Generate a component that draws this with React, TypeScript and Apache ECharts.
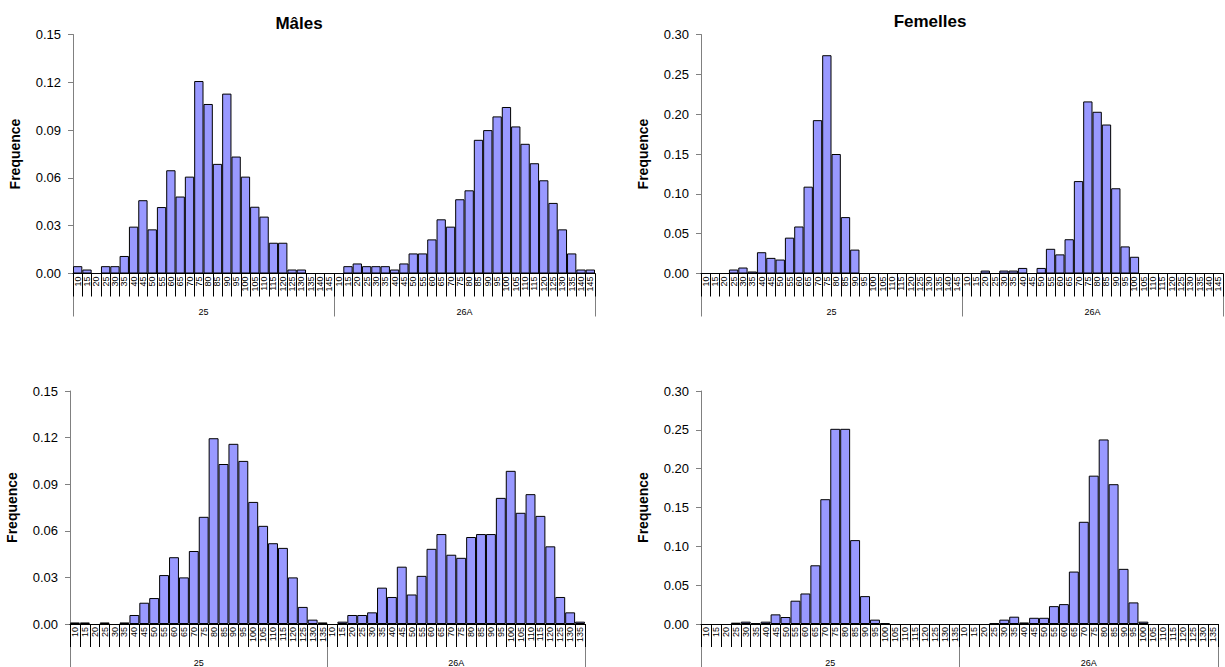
import React, { useEffect, useRef } from "react";
import * as echarts from "echarts";

const catsTop = ["10","15","20","25","30","35","40","45","50","55","60","65","70","75","80","85","90","95","100","105","110","115","120","125","130","135","140","145"];
const catsBottom = ["10","15","20","25","30","35","40","45","50","55","60","65","70","75","80","85","90","95","100","105","110","115","120","125","130","135"];
const groups = ["25", "26A"];

const maleTop25 = [0.0046,0.0025,0,0.0046,0.0046,0.011,0.0294,0.046,0.0277,0.0417,0.0648,0.0483,0.0608,0.1208,0.1064,0.0688,0.1129,0.0734,0.0608,0.0419,0.0357,0.0193,0.0193,0.0025,0.0025,0,0,0];
const maleTop26A = [0,0.0046,0.0063,0.0046,0.0046,0.0046,0.0025,0.0063,0.0126,0.0126,0.0214,0.034,0.0294,0.0466,0.0522,0.0839,0.09,0.0986,0.1045,0.0923,0.0814,0.0692,0.0585,0.0443,0.0277,0.0126,0.0025,0.0025];
const femTop25 = [0,0,0,0.005,0.0075,0.0025,0.0267,0.0196,0.0175,0.045,0.059,0.109,0.1925,0.274,0.15,0.0708,0.03,0,0,0,0,0,0,0,0,0,0,0];
const femTop26A = [0,0,0.0037,0,0.0037,0.0037,0.007,0,0.007,0.031,0.024,0.043,0.116,0.216,0.203,0.187,0.107,0.034,0.021,0,0,0,0,0,0,0,0,0];

const maleBot25 = [0.001,0.001,0,0.001,0,0.001,0.0058,0.0137,0.0167,0.0315,0.043,0.03,0.047,0.069,0.1196,0.103,0.116,0.105,0.0786,0.0632,0.052,0.049,0.03,0.011,0.0028,0.001];
const maleBot26A = [0,0.0015,0.0058,0.0058,0.0075,0.0234,0.0174,0.0369,0.019,0.031,0.0484,0.0579,0.0446,0.0426,0.056,0.0579,0.0579,0.0812,0.0986,0.0716,0.0836,0.0696,0.05,0.0174,0.0075,0.0015];
const femBot25 = [0,0,0,0.0017,0.003,0.001,0.003,0.0124,0.009,0.03,0.0393,0.0756,0.1607,0.2513,0.2513,0.108,0.0359,0.0056,0.001,0,0,0,0,0,0,0];
const femBot26A = [0,0,0,0.001,0.0056,0.0094,0.002,0.008,0.008,0.023,0.0256,0.0675,0.1316,0.191,0.2376,0.18,0.071,0.0278,0.003,0,0,0,0,0,0,0];

const FONT = "'Liberation Sans', Arial, sans-serif";

type Panel = {
  grid: { left: number; top: number; width: number; height: number };
  cats: string[];
  a: number[];
  b: number[];
  max: number;
  interval: number;
};

const panels: Panel[] = [
  { grid: { left: 73, top: 34.5, width: 522, height: 239 }, cats: catsTop, a: maleTop25, b: maleTop26A, max: 0.15, interval: 0.03 },
  { grid: { left: 701, top: 34.5, width: 522, height: 239 }, cats: catsTop, a: femTop25, b: femTop26A, max: 0.3, interval: 0.05 },
  { grid: { left: 70, top: 391, width: 515, height: 234 }, cats: catsBottom, a: maleBot25, b: maleBot26A, max: 0.15, interval: 0.03 },
  { grid: { left: 701, top: 391, width: 517, height: 234 }, cats: catsBottom, a: femBot25, b: femBot26A, max: 0.3, interval: 0.05 },
];

export default function App() {
  const ref = useRef<HTMLDivElement>(null);
  useEffect(() => {
    if (!ref.current) return;
    const chart = echarts.init(ref.current, null, { renderer: "svg" });
    const grid: any[] = [];
    const xAxis: any[] = [];
    const yAxis: any[] = [];
    const series: any[] = [];
    panels.forEach((p, i) => {
      grid.push({ ...p.grid, containLabel: false });
      xAxis.push({
        type: "category",
        gridIndex: i,
        data: [...p.cats, ...p.cats],
        boundaryGap: true,
        axisLine: { show: true, onZero: false, lineStyle: { color: "#000", width: 1 } },
        axisTick: { show: true, length: 23, interval: 0, lineStyle: { color: "#000", width: 1 } },
        axisLabel: { interval: 0, rotate: 90, fontSize: 9, margin: 3, color: "#000", fontFamily: FONT },
        splitLine: { show: false },
        z: 3,
      });
      xAxis.push({
        type: "category",
        gridIndex: i,
        data: groups,
        position: "bottom",
        boundaryGap: true,
        axisLine: { show: false },
        axisTick: { show: true, length: 43, interval: 0, lineStyle: { color: "#808080", width: 1 } },
        axisLabel: { interval: 0, fontSize: 9, margin: 34, color: "#000", fontFamily: FONT },
        splitLine: { show: false },
      });
      yAxis.push({
        type: "value",
        gridIndex: i,
        min: 0,
        max: p.max,
        interval: p.interval,
        name: "Frequence",
        nameLocation: "middle",
        nameGap: 51,
        nameTextStyle: { fontSize: 14, fontWeight: "bold", color: "#000", fontFamily: FONT },
        axisLine: { show: true, lineStyle: { color: "#808080", width: 1 } },
        axisTick: { show: true, length: 5, lineStyle: { color: "#808080" } },
        axisLabel: { fontSize: 13, margin: 12, color: "#000", fontFamily: FONT, formatter: (v: number) => v.toFixed(2) },
        splitLine: { show: false },
      });
      series.push({
        type: "bar",
        xAxisIndex: i * 2,
        yAxisIndex: i,
        data: [...p.a, ...p.b].map((v) => (v === 0 ? null : v)),
        barCategoryGap: "0%",
        barGap: "0%",
        itemStyle: { color: "#9999FF", borderColor: "#000", borderWidth: 1 },
        z: 2,
      });
    });
    chart.setOption({
      animation: false,
      backgroundColor: "#fff",
      textStyle: { fontFamily: FONT },
      grid,
      xAxis,
      yAxis,
      series,
      graphic: [
        { type: "text", x: 299, y: 23, style: { text: "Mâles", fontSize: 17, fontWeight: "bold", fill: "#000", font: `bold 17px ${FONT}`, align: "center", verticalAlign: "middle" } },
        { type: "text", x: 930, y: 21, style: { text: "Femelles", fontSize: 17, fontWeight: "bold", fill: "#000", font: `bold 17px ${FONT}`, align: "center", verticalAlign: "middle" } },
      ],
    });
    return () => chart.dispose();
  }, []);
  return <div ref={ref} style={{ position: "absolute", left: 0, top: 0, width: 1225, height: 667 }} />;
}
